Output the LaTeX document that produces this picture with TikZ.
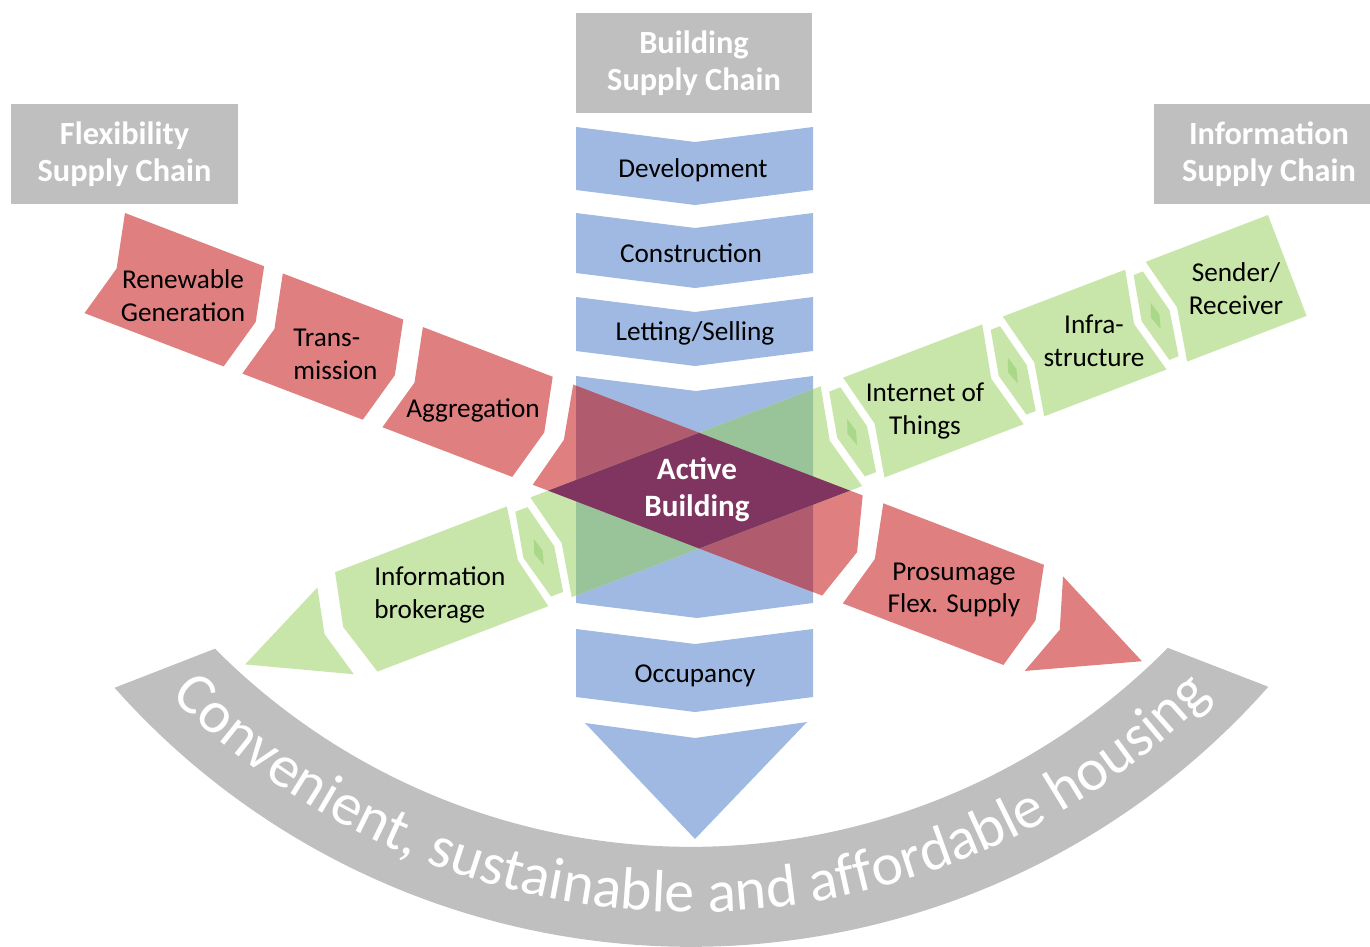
\documentclass[tikz,border=0pt]{standalone}
\usepackage{fontspec}
\setmainfont{Carlito}
\usepackage{xcolor}
\usepackage{tikz}
\usetikzlibrary{decorations.text}
\definecolor{chainblue}{HTML}{9FB9E2}
\definecolor{chainred}{HTML}{E07F7F}
\definecolor{chaingreen}{HTML}{C8E6A9}
\definecolor{leafgreen}{HTML}{A8D888}
\definecolor{boxgray}{HTML}{BFBFBF}
\definecolor{mauve}{HTML}{B05C6E}
\definecolor{sage}{HTML}{99C49A}
\definecolor{plum}{HTML}{7F355F}
\tikzset{
    every picture/.style={line cap=round,line join=round},
    titlebox/.style={fill=boxgray,text=white,font=\fontsize{18.4}{21}\selectfont\bfseries,
      align=center,minimum height=2cm,inner sep=0pt},
    steptext/.style={font=\fontsize{15.5}{18.7}\selectfont,align=center,inner sep=0pt},
    bluechev/.style={fill=chainblue},
    redchev/.style={fill=chainred},
    greenchev/.style={fill=chaingreen},
    leaf/.style={fill=leafgreen}
}

\begin{document}
\begin{tikzpicture}[x=0.02cm,y=-0.02cm]
  \useasboundingbox (0,0) rectangle (1370,947);

  % housing band
  \fill[boxgray] ([shift={(691,176)}]221.6:15.42cm) arc[start angle=221.6,end angle=318.5,radius=15.42cm]
    -- ([shift={(691,176)}]315.3:13.42cm) arc[start angle=315.3,end angle=224.8,radius=13.42cm] -- cycle;
  \path[decorate,decoration={text along path,text align=center,text color=white,
      text={|\fontsize{34}{34}\selectfont|Convenient, sustainable and affordable housing}}]
    ([shift={(691,176)}]200:14.72cm) arc[start angle=200,end angle=340,radius=14.72cm];

  \node[titlebox,minimum width=4.72cm] (bsc) at (694,63) {Building\\Supply Chain};
  \node[titlebox,minimum width=4.54cm] (fsc) at (124.5,154) {Flexibility\\Supply Chain};
  \node[titlebox,minimum width=4.32cm] (isc) at (1262,154)
    {\hspace*{0.28cm}Information\\\hspace*{0.28cm}Supply Chain};

  % building chain
  \foreach \ya/\yb in {127/190,213/273,297/351,629/697}
    \fill[bluechev] (576,\ya) -- (695,\ya+15) -- (813,\ya) -- (813,\yb) -- (695,\yb+15) -- (576,\yb) -- cycle;
  \coordinate (b1) at (576,376); \coordinate (b2) at (696,391); \coordinate (b3) at (813,376);
  \coordinate (b4) at (813,603); \coordinate (b5) at (697,618); \coordinate (b6) at (576,603);
  \fill[bluechev] (b1) -- (b2) -- (b3) -- (b4) -- (b5) -- (b6) -- cycle;
  \fill[bluechev] (585,723) -- (695,738) -- (807,722) -- (695,839) -- cycle;

  % flexibility chain
  \begin{scope}[shift={(125,213)},rotate=-20.95]
    \foreach \a/\b in {0/149,169/298,319/458,812/984}
      \fill[redchev] (\a,0) -- (\b,0) -- (\b+12,55) -- (\b-2,108) -- (\a-2,108) -- (\a+12,55) -- cycle;
    \coordinate (r1) at (480,0); \coordinate (r2) at (790,0); \coordinate (r3) at (805,55);
    \coordinate (r4) at (788,108); \coordinate (r5) at (478,108); \coordinate (r6) at (491,55);
    \fill[redchev] (r1) -- (r2) -- (r3) -- (r4) -- (r5) -- (r6) -- cycle;
    \fill[redchev] (1006,4) -- (1110,55) -- (1004,106) -- (1022,55) -- cycle;
  \end{scope}

  % information chain
  \begin{scope}[shift={(1268,215)},rotate=200.95,yscale=-1]
    \fill[greenchev] (0,0) -- (131,0) -- (118,54) -- (128,108) -- (0,108) -- cycle;
    \foreach \a/\b in {153/284,306/455}
      \fill[greenchev] (\a,0) -- (\b,0) -- (\b-13,54) -- (\b-3,108) -- (\a-3,108) -- (\a+11,54) -- cycle;
    \coordinate (g1) at (479,0); \coordinate (g2) at (790,0); \coordinate (g3) at (777,54);
    \coordinate (g4) at (787,108); \coordinate (g5) at (476,108); \coordinate (g6) at (490,54);
    \fill[greenchev] (g1) -- (g2) -- (g3) -- (g4) -- (g5) -- (g6) -- cycle;
    \fill[greenchev] (815,0) -- (999,0) -- (1011,54) -- (995,108) -- (812,108) -- (824,54) -- cycle;
    \fill[greenchev] (1021,8) -- (1116,54) -- (1018,102) -- (1031,54) -- cycle;
    \foreach \b/\a in {131/153,284/306,455/479,790/815} {
      \fill[greenchev] (\b+6,8) -- (\a-6,8) -- (\a+3,54) -- (\a-9,100) -- (\b+3,100) -- (\b-5,54) -- cycle;
      \fill[leaf] ({(\a+\b)/2-1},40) -- ({(\a+\b)/2+4},54) -- ({(\a+\b)/2-1},68) -- ({(\a+\b)/2-5},54) -- cycle;
    }
  \end{scope}

  % overlaps
  \begin{scope}
    \clip (b1) -- (b2) -- (b3) -- (b4) -- (b5) -- (b6) -- cycle;
    \fill[mauve] (r1) -- (r2) -- (r3) -- (r4) -- (r5) -- (r6) -- cycle;
    \fill[sage] (g1) -- (g2) -- (g3) -- (g4) -- (g5) -- (g6) -- cycle;
  \end{scope}
  \begin{scope}
    \clip (r1) -- (r2) -- (r3) -- (r4) -- (r5) -- (r6) -- cycle;
    \fill[plum] (g1) -- (g2) -- (g3) -- (g4) -- (g5) -- (g6) -- cycle;
  \end{scope}

  \node[steptext] (dev) at (693,170) {Development};
  \node[steptext] (con) at (691,253) {Construction};
  \node[steptext] (let) at (695,333) {Letting/Selling};
  \node[steptext] (occ) at (695,676) {Occupancy};
  \node[steptext,text=white,font=\fontsize{17.7}{21}\selectfont\bfseries] (ab) at (697,490) {Active\\Building};
  \node[steptext] (rg) at (183,296) {Renewable\\Generation};
  \node[steptext,align=left,anchor=west] (tr) at (293,354) {Trans-\\mission};
  \node[steptext] (ag) at (473,410) {Aggregation};
  \node[steptext] (pf) at (954,590) {Prosumage\\Flex. Supply};
  \node[steptext] (sr) at (1236,289) {Sender/\\Receiver};
  \node[steptext] (inf) at (1094,341) {Infra-\\structure};
  \node[steptext] (iot) at (925,411) {Internet of\\Things};
  \node[steptext,align=left,anchor=west] (ib) at (374,595) {Information\\brokerage};
\end{tikzpicture}
\end{document}
